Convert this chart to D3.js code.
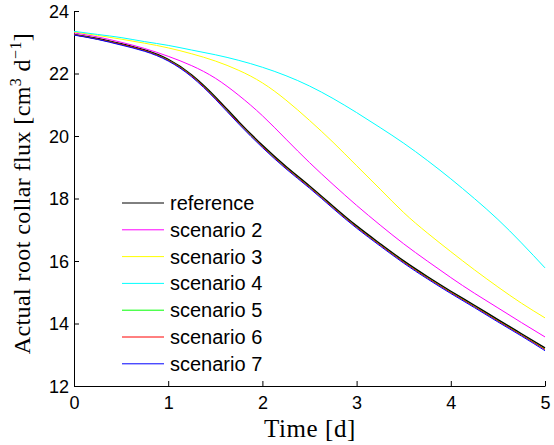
<!DOCTYPE html>
<html><head><meta charset="utf-8">
<script src="https://cdn.jsdelivr.net/npm/d3@7"></script>
<style>body{margin:0;background:#fff}</style>
</head><body>
<svg id="c" width="554" height="445"></svg>
<script>
const time = [0,0.25,0.5,0.75,1,1.25,1.5,1.75,2,2.25,2.5,2.75,3,3.25,3.5,3.75,4,4.25,4.5,4.75,5];
const reference = [23.25,23.12,22.95,22.75,22.45,21.95,21.25,20.45,19.7,19.02,18.4,17.75,17.12,16.55,16.0,15.5,15.03,14.58,14.12,13.67,13.22];
const scenario2 = [23.3,23.17,23.0,22.8,22.55,22.25,21.85,21.3,20.65,19.9,19.15,18.45,17.78,17.15,16.55,16.0,15.47,14.97,14.5,14.03,13.57];
const scenario3 = [23.33,23.22,23.1,22.97,22.82,22.63,22.4,22.1,21.7,21.15,20.5,19.8,19.05,18.3,17.55,16.9,16.3,15.72,15.17,14.65,14.18];
const scenario4 = [23.35,23.25,23.15,23.02,22.9,22.75,22.6,22.42,22.2,21.93,21.6,21.2,20.75,20.27,19.77,19.22,18.63,18.0,17.33,16.58,15.78];
const scenario5 = [23.24,23.1,22.93,22.73,22.43,21.93,21.22,20.42,19.67,18.99,18.37,17.72,17.09,16.52,15.97,15.47,15.0,14.55,14.09,13.64,13.18];
const scenario6 = [23.24,23.1,22.93,22.73,22.42,21.92,21.21,20.41,19.66,18.98,18.36,17.71,17.08,16.51,15.96,15.46,14.99,14.54,14.08,13.63,13.17];
const scenario7 = [23.23,23.09,22.91,22.71,22.4,21.89,21.18,20.38,19.63,18.95,18.33,17.68,17.05,16.48,15.93,15.43,14.96,14.51,14.05,13.6,13.13];
const seriesNames = ["reference","scenario 2","scenario 3","scenario 4","scenario 5","scenario 6","scenario 7"];
const seriesColors = ["#000000","#ff00ff","#ffff00","#00ffff","#00ff00","#ff0000","#0000ff"];
const xTicks = [0,1,2,3,4,5];
const yTicks = [12,14,16,18,20,22,24];

const allSeries = [reference,scenario2,scenario3,scenario4,scenario5,scenario6,scenario7];
const svg = d3.select("#c");
const L=74, R=545, T=11, B=386;
const x = d3.scaleLinear().domain([0,5]).range([L,R]);
const y = d3.scaleLinear().domain([12,24]).range([B,T]);

const gx = svg.append("g").attr("transform",`translate(0,${B})`)
  .call(d3.axisBottom(x).tickValues(xTicks).tickSizeInner(-5).tickSizeOuter(0).tickPadding(10).tickFormat(d3.format("d")));
const gy = svg.append("g").attr("transform",`translate(${L},0)`)
  .call(d3.axisLeft(y).tickValues(yTicks).tickSizeInner(-5).tickSizeOuter(0).tickPadding(5).tickFormat(d3.format("d")));
[gx,gy].forEach(g=>{
  g.selectAll("text").attr("font-family","Liberation Sans, Arial, sans-serif").attr("font-size",18).attr("fill","#000");
  g.selectAll("line,path").attr("stroke","#000").attr("stroke-width",1);
});
gy.selectAll("text").attr("dy","0.35em");

const line = d3.line().x((d,i)=>x(time[i])).y(d=>y(d)).curve(d3.curveNatural);
allSeries.forEach((s,k)=>{
  svg.append("path").datum(s).attr("d",line).attr("fill","none")
    .attr("stroke",seriesColors[k]).attr("stroke-width",k===0?1.6:1);
});

// legend
const lg = svg.append("g");
seriesNames.forEach((n,k)=>{
  const yy = 203 + k*26.8;
  lg.append("line").attr("x1",122).attr("x2",164).attr("y1",yy).attr("y2",yy).attr("stroke",seriesColors[k]).attr("stroke-width",1);
  lg.append("text").attr("x",170).attr("y",yy).attr("dy","0.35em").attr("font-family","Liberation Sans, Arial, sans-serif").attr("font-size",20).text(n);
});

// axis labels
svg.append("text").attr("x",310).attr("y",437).attr("text-anchor","middle")
  .attr("font-family","Liberation Serif, Times New Roman, serif").attr("font-size",25).attr("letter-spacing",0.6).text("Time [d]");
const yl = svg.append("text").attr("transform",`translate(30,${(T+B)/2-5}) rotate(-90)`).attr("text-anchor","middle")
  .attr("font-family","Liberation Serif, Times New Roman, serif").attr("font-size",24).attr("letter-spacing",0.4);
yl.append("tspan").text("Actual root collar flux [cm");
yl.append("tspan").attr("font-size",16).attr("dy",-9).text("3");
yl.append("tspan").attr("dy",9).text(" d");
yl.append("tspan").attr("font-size",16).attr("dy",-9).text("\u22121");
yl.append("tspan").attr("dy",9).text("]");
</script>
</body></html>
